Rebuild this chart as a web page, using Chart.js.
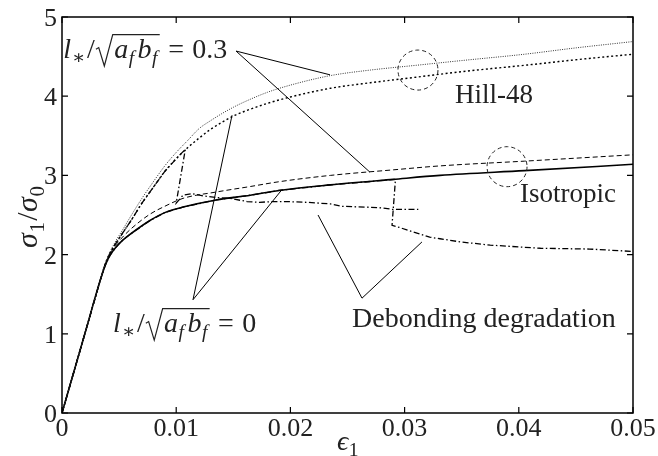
<!DOCTYPE html>
<html><head><meta charset="utf-8">
<script src="https://cdn.jsdelivr.net/npm/chart.js@4"></script>
<style>html,body{margin:0;padding:0;background:#fff}</style>
</head><body>
<canvas id="c" width="658" height="456"></canvas>
<script>
// ---- data ----
const xTicks = [0, 0.01, 0.02, 0.03, 0.04, 0.05];
const xTickLabels = ['0', '0.01', '0.02', '0.03', '0.04', '0.05'];
const yTicks = [0, 1, 2, 3, 4, 5];
const yTickLabels = ['0', '1', '2', '3', '4', '5'];

const hillX   = [0, 0.002, 0.0034, 0.0038, 0.0042, 0.0047, 0.0053, 0.006, 0.007, 0.008, 0.009, 0.010, 0.011, 0.012, 0.013, 0.014, 0.015, 0.016, 0.018, 0.020, 0.0235, 0.027, 0.031, 0.035, 0.0405, 0.045, 0.05];
const hill03Y = [0, 1.0, 1.70, 1.89, 2.03, 2.17, 2.31, 2.48, 2.71, 2.92, 3.12, 3.29, 3.44, 3.59, 3.69, 3.78, 3.86, 3.93, 4.05, 4.14, 4.26, 4.33, 4.39, 4.45, 4.53, 4.61, 4.69];
const hill0Y  = [0, 1.0, 1.70, 1.89, 2.02, 2.14, 2.27, 2.42, 2.65, 2.85, 3.05, 3.21, 3.35, 3.47, 3.58, 3.67, 3.75, 3.81, 3.91, 3.99, 4.10, 4.17, 4.24, 4.31, 4.39, 4.46, 4.53];

const isoX   = [0, 0.002, 0.0034, 0.0038, 0.0042, 0.0047, 0.0053, 0.006, 0.0077, 0.009, 0.0106, 0.0135, 0.0165, 0.019, 0.0235, 0.029, 0.0331, 0.0405, 0.05];
const iso03Y = [0, 1.0, 1.70, 1.88, 2.01, 2.12, 2.22, 2.32, 2.51, 2.61, 2.71, 2.79, 2.86, 2.92, 3.00, 3.07, 3.12, 3.18, 3.26];
const iso0Y  = [0, 1.0, 1.70, 1.87, 1.99, 2.09, 2.18, 2.26, 2.43, 2.53, 2.60, 2.69, 2.75, 2.81, 2.88, 2.95, 3.00, 3.06, 3.14];

const deb1X = [0, 0.002, 0.0034, 0.0038, 0.0042, 0.0047, 0.0053, 0.006, 0.007, 0.008, 0.009, 0.010, 0.0108, 0.0100, 0.0106, 0.0114, 0.0124, 0.0135, 0.0147, 0.0162, 0.0173, 0.0185, 0.0195, 0.0215, 0.0235, 0.0245, 0.0265, 0.0280, 0.0290, 0.0312];
const deb1Y = [0, 1.0, 1.70, 1.89, 2.02, 2.14, 2.27, 2.42, 2.65, 2.85, 3.05, 3.21, 3.33, 2.65, 2.75, 2.77, 2.74, 2.72, 2.71, 2.67, 2.66, 2.67, 2.67, 2.66, 2.64, 2.61, 2.60, 2.59, 2.57, 2.57];

const deb2X = [0, 0.002, 0.0034, 0.0038, 0.0042, 0.0047, 0.0053, 0.006, 0.0077, 0.009, 0.0106, 0.0135, 0.0165, 0.019, 0.0235, 0.0292, 0.0289, 0.0296, 0.0322, 0.0331, 0.0349, 0.0375, 0.0419, 0.0462, 0.05];
const deb2Y = [0, 1.0, 1.70, 1.87, 1.99, 2.09, 2.18, 2.26, 2.43, 2.53, 2.60, 2.69, 2.75, 2.81, 2.88, 2.95, 2.37, 2.34, 2.22, 2.20, 2.16, 2.12, 2.08, 2.07, 2.04];

// leader lines (data space): target, label anchor, target
const lead03X  = [0.02347, 0.01524, 0.02697];
const lead03Y  = [4.27, 4.57, 3.04];
const lead0X   = [0.01489, 0.01147, 0.01926];
const lead0Y   = [3.76, 1.43, 2.82];
const leadDebX = [0.02242, 0.02627, 0.03152];
const leadDebY = [2.50, 1.45, 2.16];

// dashed circles (data-space centres)
const circleX = [0.03117, 0.03897];
const circleY = [4.33, 3.11];

// annotation text anchors (data space, left/baseline)
const noteX = [0.0001, 0.00447, 0.03441, 0.0401, 0.0254];
const noteY = [4.48, 1.02, 3.91, 2.67, 1.09];

// ---- helpers ----
const FONT = "'Liberation Serif', 'DejaVu Serif', serif";
const TXT = '#222';
const zip = (xs, ys) => xs.map((x, i) => ({x, y: ys[i]}));

function segFont(s, size) {
  const fs = s.sub ? size * 0.7 : size;
  return (s.it ? 'italic ' : '') + fs + 'px ' + FONT;
}
function richWidth(ctx, segs, size) {
  let w = 0;
  for (const s of segs) {
    w += (s.gap || 0) * size;
    if (s.sqrt) { w += 0.62 * size + richWidth(ctx, s.sqrt, size) + 0.08 * size; continue; }
    ctx.font = segFont(s, size);
    w += ctx.measureText(s.t).width;
  }
  return w;
}
function drawRich(ctx, segs, x, y, size) {
  let cx = x;
  for (const s of segs) {
    cx += (s.gap || 0) * size;
    if (s.sqrt) {
      const innerW = richWidth(ctx, s.sqrt, size);
      const pad = 0.08 * size;
      ctx.save();
      ctx.strokeStyle = TXT; ctx.lineWidth = 1.2; ctx.setLineDash([]);
      ctx.beginPath();
      ctx.moveTo(cx, y - 0.32 * size);
      ctx.lineTo(cx + 0.1 * size, y - 0.38 * size);
      ctx.lineTo(cx + 0.3 * size, y + 0.28 * size);
      ctx.lineTo(cx + 0.6 * size, y - 0.84 * size);
      ctx.lineTo(cx + 0.62 * size + innerW + pad, y - 0.84 * size);
      ctx.stroke();
      ctx.restore();
      drawRich(ctx, s.sqrt, cx + 0.62 * size, y, size);
      cx += 0.62 * size + innerW + pad;
      continue;
    }
    ctx.font = segFont(s, size);
    ctx.fillText(s.t, cx, y + (s.sub ? size * 0.22 : 0));
    cx += ctx.measureText(s.t).width;
  }
  return cx - x;
}

const sqrtAB = {sqrt: [{t: 'a', it: 1, gap: 0.03}, {t: 'f', it: 1, sub: 1, gap: 0.02}, {t: 'b', it: 1, gap: 0.12}, {t: 'f', it: 1, sub: 1, gap: 0.02}]};
const lhs = [{t: 'l', it: 1}, {t: '∗', sub: 1, gap: 0.04}, {t: '/', gap: 0.06}, Object.assign({gap: 0.04}, sqrtAB)];
const notes = [
  [...lhs, {t: '=', gap: 0.3}, {t: '0.3', gap: 0.3}],
  [...lhs, {t: '=', gap: 0.3}, {t: '0', gap: 0.3}],
  [{t: 'Hill-48'}],
  [{t: 'Isotropic'}],
  [{t: 'Debonding degradation'}]
];
const noteSize = [28, 28, 27, 27, 28];

const deco = {
  id: 'deco',
  afterDraw(chart) {
    const ctx = chart.ctx, a = chart.chartArea;
    const xs = chart.scales.x, ys = chart.scales.y;
    ctx.save();
    // dashed circles
    ctx.strokeStyle = '#222'; ctx.lineWidth = 1; ctx.setLineDash([4, 3]);
    circleX.forEach((cx, i) => {
      ctx.beginPath();
      ctx.arc(xs.getPixelForValue(cx), ys.getPixelForValue(circleY[i]), 20, 0, Math.PI * 2);
      ctx.stroke();
    });
    ctx.setLineDash([]);
    // frame
    ctx.strokeStyle = '#000'; ctx.lineWidth = 1.5;
    ctx.strokeRect(a.left, a.top, a.right - a.left, a.bottom - a.top);
    // inward ticks
    ctx.lineWidth = 1.2;
    const tl = 6;
    ctx.beginPath();
    xTicks.forEach(v => {
      const p = xs.getPixelForValue(v);
      ctx.moveTo(p, a.bottom); ctx.lineTo(p, a.bottom - tl);
      ctx.moveTo(p, a.top); ctx.lineTo(p, a.top + tl);
    });
    yTicks.forEach(v => {
      const p = ys.getPixelForValue(v);
      ctx.moveTo(a.left, p); ctx.lineTo(a.left + tl, p);
      ctx.moveTo(a.right, p); ctx.lineTo(a.right - tl, p);
    });
    ctx.stroke();
    // tick labels
    ctx.fillStyle = TXT;
    ctx.font = '26px ' + FONT;
    ctx.textBaseline = 'alphabetic';
    ctx.textAlign = 'center';
    xTicks.forEach((v, i) => ctx.fillText(xTickLabels[i], xs.getPixelForValue(v), a.bottom + 23));
    ctx.textAlign = 'right';
    yTicks.forEach((v, i) => ctx.fillText(yTickLabels[i], a.left - 5, ys.getPixelForValue(v) + 9));
    // annotation text
    ctx.textAlign = 'left';
    notes.forEach((segs, i) => drawRich(ctx, segs, xs.getPixelForValue(noteX[i]), ys.getPixelForValue(noteY[i]), noteSize[i]));
    // x title
    drawRich(ctx, [{t: 'ϵ', it: 1}, {t: '1', sub: 1, gap: 0.02}], 337, 450, 28);
    // y title
    const yt = [{t: 'σ', it: 1}, {t: '1', sub: 1, gap: 0.02}, {t: '/', gap: 0.04}, {t: 'σ', it: 1, gap: 0.02}, {t: '0', sub: 1, gap: 0.02}];
    ctx.translate(37, 217);
    ctx.rotate(-Math.PI / 2);
    const w = richWidth(ctx, yt, 30);
    drawRich(ctx, yt, -w / 2, 0, 30);
    ctx.restore();
  }
};

const curve = (data, opts) => Object.assign({data, showLine: true, pointRadius: 0, borderColor: '#000', borderWidth: 1, fill: false}, opts);

new Chart(document.getElementById('c'), {
  type: 'scatter',
  data: {
    datasets: [
      curve(zip(hillX, hill03Y), {borderColor: '#333', borderWidth: 1, borderDash: [1, 1.3], cubicInterpolationMode: 'monotone'}),
      curve(zip(hillX, hill0Y), {borderWidth: 1.4, borderDash: [2, 2.5], cubicInterpolationMode: 'monotone'}),
      curve(zip(isoX, iso03Y), {borderWidth: 1, borderDash: [5, 3], cubicInterpolationMode: 'monotone'}),
      curve(zip(isoX, iso0Y), {borderWidth: 1.6, cubicInterpolationMode: 'monotone'}),
      curve(zip(deb1X, deb1Y), {borderWidth: 1.3, borderDash: [6, 2.5, 1.5, 2.5]}),
      curve(zip(deb2X, deb2Y), {borderWidth: 1.3, borderDash: [6, 2.5, 1.5, 2.5]}),
      curve(zip(lead03X, lead03Y), {borderWidth: 1}),
      curve(zip(lead0X, lead0Y), {borderWidth: 1}),
      curve(zip(leadDebX, leadDebY), {borderWidth: 1})
    ]
  },
  options: {
    responsive: false,
    animation: false,
    events: [],
    layout: {padding: {left: 0, top: 17, right: 25, bottom: 0}},
    plugins: {legend: {display: false}, tooltip: {enabled: false}},
    scales: {
      x: {type: 'linear', min: 0, max: 0.05, ticks: {display: false}, grid: {display: false}, border: {display: false},
          afterFit: s => { s.height = 43; }},
      y: {type: 'linear', min: 0, max: 5, ticks: {display: false}, grid: {display: false}, border: {display: false},
          afterFit: s => { s.width = 62; }}
    }
  },
  plugins: [deco]
});
</script>
</body></html>
